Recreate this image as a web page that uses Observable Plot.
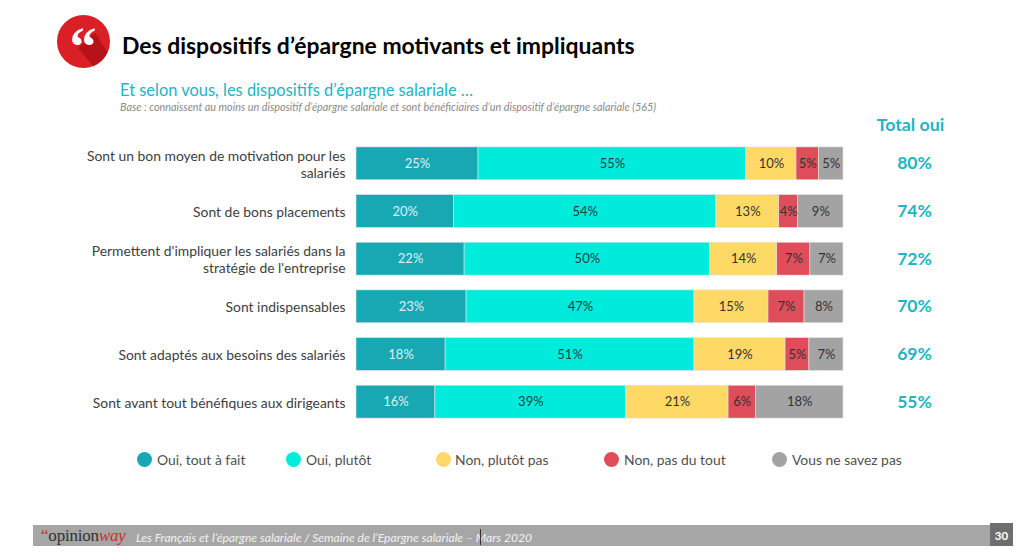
<!DOCTYPE html>
<html lang="fr">
<head>
<meta charset="utf-8">
<script src="https://cdn.jsdelivr.net/npm/d3@7"></script>
<script src="https://cdn.jsdelivr.net/npm/@observablehq/plot@0.6"></script>
<style>
html,body{margin:0;padding:0;background:#fff;overflow:hidden}
#page{position:relative;width:1024px;height:554px;font-family:Lato,sans-serif;overflow:hidden}
.abs{position:absolute;white-space:nowrap}
#chart{position:absolute;left:0;top:110px}
#chart svg{display:block}
.dot{position:absolute;width:15px;height:15px;border-radius:50%;top:452px}
</style>
</head>
<body>
<div id="page">
  <svg class="abs" style="left:50px;top:10px" width="70" height="85" viewBox="0 0 70 85">
    <circle cx="33.5" cy="31.5" r="26.5" fill="#DA1F26"/>
    <path d="M28 38 L45 23 L57.5 42 A26.5 26.5 0 0 1 43 56 Z" fill="#B5121A"/>
    <text x="33" y="55" text-anchor="middle" font-family="Liberation Serif" font-weight="700" font-size="54" fill="#fff">“</text>
  </svg>
  <div class="abs" style="left:122px;top:31px;font-size:22.95px;font-weight:700;color:#000">Des dispositifs d’épargne motivants et impliquants</div>
  <div class="abs" style="left:120px;top:80px;font-size:16.45px;color:#20B5C4">Et selon vous, les dispositifs d’épargne salariale …</div>
  <div class="abs" style="left:120px;top:100px;font-size:10.8px;font-style:italic;color:#8a8a8a">Base : connaissent au moins un dispositif d’épargne salariale et sont bénéficiaires d’un dispositif d’épargne salariale (565)</div>
  <div id="chart"></div>
  <div id="legend"></div>
  <div class="abs" style="left:33px;top:525px;width:957px;height:21px;background:#A6A6A6"></div>
  <div class="abs" style="left:990px;top:523px;width:23px;height:23px;background:#6e6e6e;color:#fff;font-weight:700;font-size:11.5px;line-height:25px;text-align:center">30</div>
  <div class="abs" style="left:41px;top:526px;font-family:'Liberation Serif',serif;font-size:17px;color:#333;letter-spacing:-.2px"><span style="color:#D02B2B">“</span>opinion<span style="color:#D02B2B;font-style:italic">way</span></div>
  <div class="abs" style="left:136px;top:530px;font-size:12.1px;font-style:italic;color:#f2f2f2">Les Français et l’épargne salariale / Semaine de l’Epargne salariale – Mars 2020</div>
  <div class="abs" style="left:480px;top:529px;width:1px;height:16px;background:#333"></div>
</div>
<script>
const categories = [
  "Sont un bon moyen de motivation pour les\nsalariés",
  "Sont de bons placements",
  "Permettent d'impliquer les salariés dans la\nstratégie de l'entreprise",
  "Sont indispensables",
  "Sont adaptés aux besoins des salariés",
  "Sont avant tout bénéfiques aux dirigeants"
];
const seriesNames = ["Oui, tout à fait","Oui, plutôt","Non, plutôt pas","Non, pas du tout","Vous ne savez pas"];
const seriesColors = ["#17A8B4","#00EBDC","#FFD966","#DF4D5B","#A3A3A3"];
const labelColors = ["#d9f3f4","#1f3f3f","#333333","#333333","#333333"];
const ouiToutAFait = [25.05,20.0,22.2,22.6,18.3,16.2];
const ouiPlutot = [55.0,53.9,50.4,46.8,51.1,39.2];
const nonPlutotPas = [10.3,12.9,13.8,15.2,18.7,21.0];
const nonPasDuTout = [4.6,3.9,6.8,7.4,4.9,5.6];
const neSaventPas = [5.05,9.3,6.8,8.0,7.0,18.0];
const totalOui = [80,74,72,70,69,55];
const legendDotX = [137,286,436,604,772];
const legendTextX = [157,306,455,624,792];

const columns = [ouiToutAFait,ouiPlutot,nonPlutotPas,nonPasDuTout,neSaventPas];
const rows = columns.flatMap((col,s)=>col.map((v,i)=>({cat:categories[i],series:seriesNames[s],value:v,labelColor:labelColors[s]})));
const totals = categories.map((cat,i)=>({cat,total:totalOui[i]}));

const chart = Plot.plot({
  width:1024,height:330,
  marginLeft:356,marginRight:181,marginTop:29.5,marginBottom:14.5,
  style:{fontFamily:"Lato,sans-serif",background:"transparent",overflow:"visible"},
  x:{domain:[0,100],axis:null},
  y:{domain:categories,paddingInner:0.31,paddingOuter:0.155,round:false,label:null},
  color:{domain:seriesNames,range:seriesColors},
  marks:[
    Plot.barX(rows,Plot.stackX({x:"value",y:"cat",fill:"series",order:seriesNames,stroke:"#e4e4e4",strokeWidth:0.6})),
    Plot.text(rows,Plot.stackX({x:"value",y:"cat",z:"series",order:seriesNames,text:d=>Math.round(d.value)+"%",fill:"labelColor",fontSize:13})),
    Plot.axisY({tickSize:0,tickPadding:11,fontSize:13.9,color:"#404040",lineHeight:1.25,label:null,textAnchor:"end"}),
    Plot.text(totals,{x:()=>100,y:"cat",dx:71,text:d=>d.total+"%",fill:"#1FB5C2",fontSize:17.5,fontWeight:700}),
    Plot.text(["Total oui"],{x:()=>100,frameAnchor:"top",dx:67,dy:-15,text:d=>d,fill:"#1FB5C2",fontSize:17.8,fontWeight:700,lineAnchor:"middle"})
  ]
});
document.getElementById("chart").append(chart);

const legend = document.getElementById("legend");
seriesNames.forEach((n,i)=>{
  const d=document.createElement("div");d.className="dot";d.style.left=legendDotX[i]+"px";d.style.background=seriesColors[i];legend.append(d);
  const t=document.createElement("div");t.className="abs";t.textContent=n;
  t.style.cssText+=`left:${legendTextX[i]}px;top:451px;font-size:13.9px;color:#505050`;legend.append(t);
});
</script>
</body>
</html>
